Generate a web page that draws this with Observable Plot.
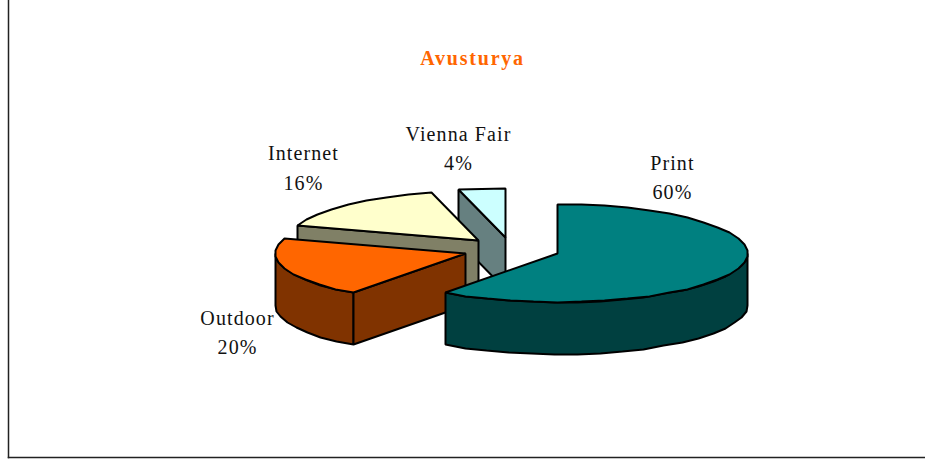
<!DOCTYPE html>
<html>
<head>
<meta charset="utf-8">
<style>
html,body{margin:0;padding:0;background:#fff}
svg{display:block}
.lbl{letter-spacing:1.1px}
.ttl{letter-spacing:1.8px}
</style>
<script src="https://cdn.jsdelivr.net/npm/d3@7"></script>
<script src="https://cdn.jsdelivr.net/npm/@observablehq/plot@0.6"></script>
</head>
<body>
<script>
// data
const categories = ["Print", "Outdoor", "Internet", "Vienna Fair"];
const shares = [60, 20, 16, 4];
const topColors = ["#008080", "#ff6600", "#ffffcc", "#ccffff"];
const wallColors = ["#004040", "#803300", "#808066", "#668080"];
const title = "Avusturya";

// pie layout, in chart units (1 unit = pie radius on each axis)
const W = 925, H = 459, mL = 8, mB = 2;
const cx = 511, cy = 249, rx = 190, ry = 49;
const explode = 48.4 / 190, depth = 52 / 49;
const rad = d => d * Math.PI / 180;
const snapX = v => Math.round(v * rx) / rx;
const snapY = v => Math.round(v * ry) / ry;

let acc = 0;
const slices = categories.map((name, i) => {
  const a0 = acc * 3.6; acc += shares[i]; const a1 = acc * 3.6;
  const mid = (a0 + a1) / 2;
  return {name, i, a0, a1, ox: explode * Math.sin(rad(mid)), oy: explode * Math.cos(rad(mid))};
});
const arcPts = (s, from, to, dz = 0) => {
  const span = Math.abs(to - from);
  const n = span < 15 ? 1 : Math.round(span / 7.2);
  return d3.range(n + 1).map(k => {
    const a = from + (to - from) * k / n;
    return {x: snapX(s.ox + Math.sin(rad(a))), y: snapY(s.oy + Math.cos(rad(a))) - dz};
  });
};
const apex = (s, dz = 0) => ({x: snapX(s.ox), y: snapY(s.oy) - dz});
const topFace = s => [apex(s), ...arcPts(s, s.a0, s.a1)];
const poly = (pts, fill) => Plot.line(pts, {x: "x", y: "y", fill, stroke: "#000", strokeWidth: 2, strokeLinejoin: "miter", curve: "linear-closed"});

const [print, outdoor, internet, vienna] = slices;
const marks = [
  Plot.frame({anchor: "left", stroke: "#222", strokeWidth: 1.5}),
  Plot.frame({anchor: "bottom", stroke: "#222", strokeWidth: 1.5}),
  // Vienna Fair: cut wall then top
  poly([apex(vienna), arcPts(vienna, vienna.a0, vienna.a0)[0], arcPts(vienna, vienna.a0, vienna.a0, depth)[0], apex(vienna, depth)], wallColors[3]),
  poly(topFace(vienna), topColors[3]),
  // Internet
  poly([apex(internet), arcPts(internet, internet.a0, internet.a0)[0], arcPts(internet, internet.a0, internet.a0, depth)[0], apex(internet, depth)], wallColors[2]),
  poly(topFace(internet), topColors[2]),
  // Outdoor: rim, cut wall, top
  poly([...arcPts(outdoor, outdoor.a0, 270), ...arcPts(outdoor, 270, outdoor.a0, depth)], wallColors[1]),
  poly([apex(outdoor), arcPts(outdoor, outdoor.a0, outdoor.a0)[0], arcPts(outdoor, outdoor.a0, outdoor.a0, depth)[0], apex(outdoor, depth)], wallColors[1]),
  poly(topFace(outdoor), topColors[1]),
  // Print: rim, top
  poly([...arcPts(print, 90, print.a1), ...arcPts(print, print.a1, 90, depth)], wallColors[0]),
  poly(topFace(print), topColors[0]),
  // labels
  Plot.text(categories.map((c, i) => ({c, pct: shares[i]})), {
    x: d => ({"Print": 0.847, "Outdoor": -1.442, "Internet": -1.095, "Vienna Fair": -0.279})[d.c],
    y: d => ({"Print": 1.52, "Outdoor": -1.64, "Internet": 1.71, "Vienna Fair": 2.11})[d.c],
    text: d => `${d.c}\n${d.pct}%`,
    fontFamily: "Liberation Serif", fontSize: 20, lineHeight: 1.47, fill: "#111", className: "lbl"
  }),
  Plot.text([title], {
    x: [-0.205], y: [3.9], fontFamily: "Liberation Serif", fontSize: 20, fontWeight: "bold", fill: "#ff6600", className: "ttl"
  })
];

document.body.append(Plot.plot({
  width: W, height: H,
  marginLeft: mL, marginRight: 0, marginTop: 0, marginBottom: mB,
  x: {axis: null, domain: [(mL - cx) / rx, (W - cx) / rx]},
  y: {axis: null, domain: [(cy - (H - mB)) / ry, cy / ry]},
  style: {background: "#fff", overflow: "visible"},
  marks
}));
</script>
</body>
</html>
